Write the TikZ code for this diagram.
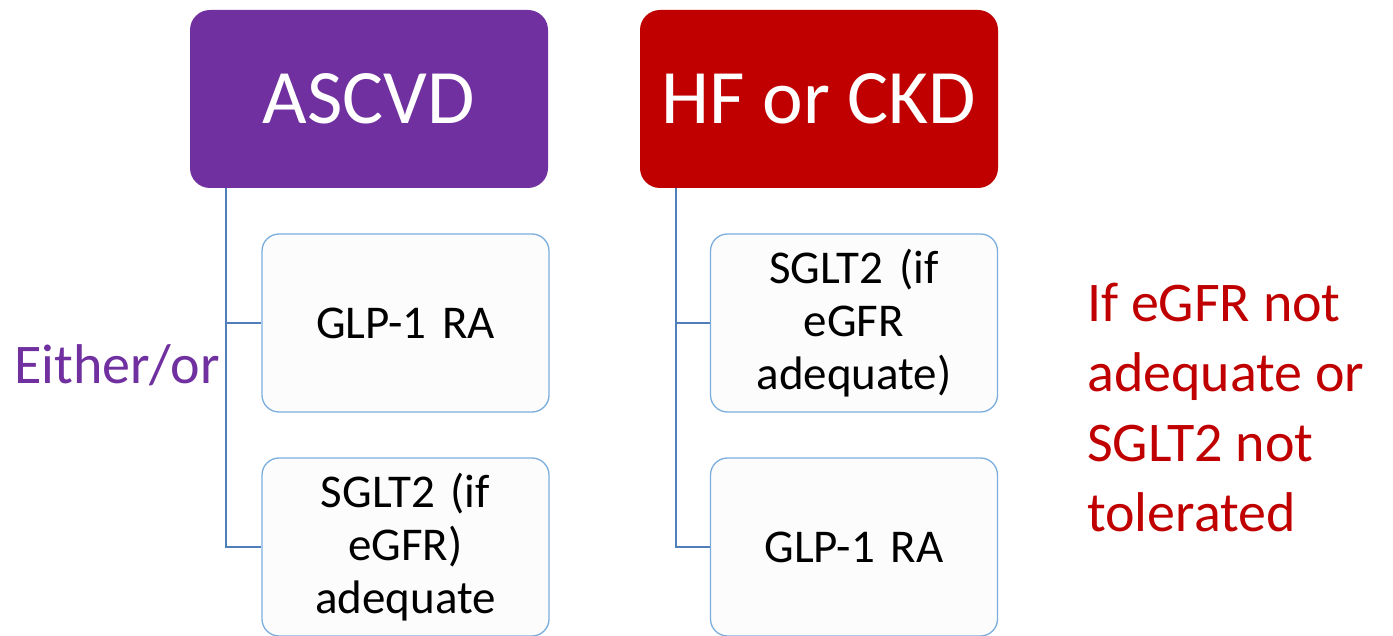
\documentclass[tikz,border=0pt]{standalone}
\usepackage{fontspec}
\setmainfont{Carlito}
\definecolor{ascpurple}{HTML}{7030A0}
\definecolor{hfred}{HTML}{C00000}
\definecolor{childborder}{HTML}{7BAEDC}
\definecolor{childfill}{HTML}{FCFCFC}
\definecolor{connblue}{HTML}{4F7FB8}
\tikzset{
  topbox/.style={rectangle, rounded corners=20pt, minimum width=358pt, minimum height=178pt, inner sep=0pt, text=white, font=\fontsize{77}{90}\selectfont},
  childbox/.style={rectangle, rounded corners=17pt, draw=childborder, line width=1.3pt, fill=childfill, minimum width=287pt, minimum height=178pt, inner sep=0pt, align=center, text width=280pt, font=\fontsize{47}{53}\selectfont},
  conn/.style={draw=connblue, line width=1.4pt},
  sidetext/.style={inner sep=0pt, align=left, font=\fontsize{56}{70}\selectfont}
}
\begin{document}
\begin{tikzpicture}[x=1pt,y=-1pt]
\useasboundingbox[fill=white] (0,0) rectangle (1393,636);
\node[topbox, fill=ascpurple] (asc) at (369,99) {ASCVD};
\node[topbox, fill=hfred] (hf) at (819,99) {HF or CKD};
\node[childbox] (glpA) at (405.5,323) {GLP-1 RA};
\node[childbox] (sgA) at (405.5,547) {SGLT2 (if\\eGFR)\\adequate};
\node[childbox] (sgB) at (854,323) {SGLT2 (if\\eGFR\\adequate)};
\node[childbox] (glpB) at (854,547) {GLP-1 RA};
\draw[conn] ([xshift=36pt]asc.south west) |- (glpA.west);
\draw[conn] ([xshift=36pt]asc.south west) |- (sgA.west);
\draw[conn] ([xshift=36pt]hf.south west) |- (sgB.west);
\draw[conn] ([xshift=36pt]hf.south west) |- (glpB.west);
\node[sidetext, text=ascpurple, anchor=base west] (either) at (14,384) {Either/or};
\node[sidetext, text=hfred, anchor=north west] (note) at (1087,283) {If eGFR not\\adequate or\\SGLT2 not\\tolerated};
\end{tikzpicture}
\end{document}
